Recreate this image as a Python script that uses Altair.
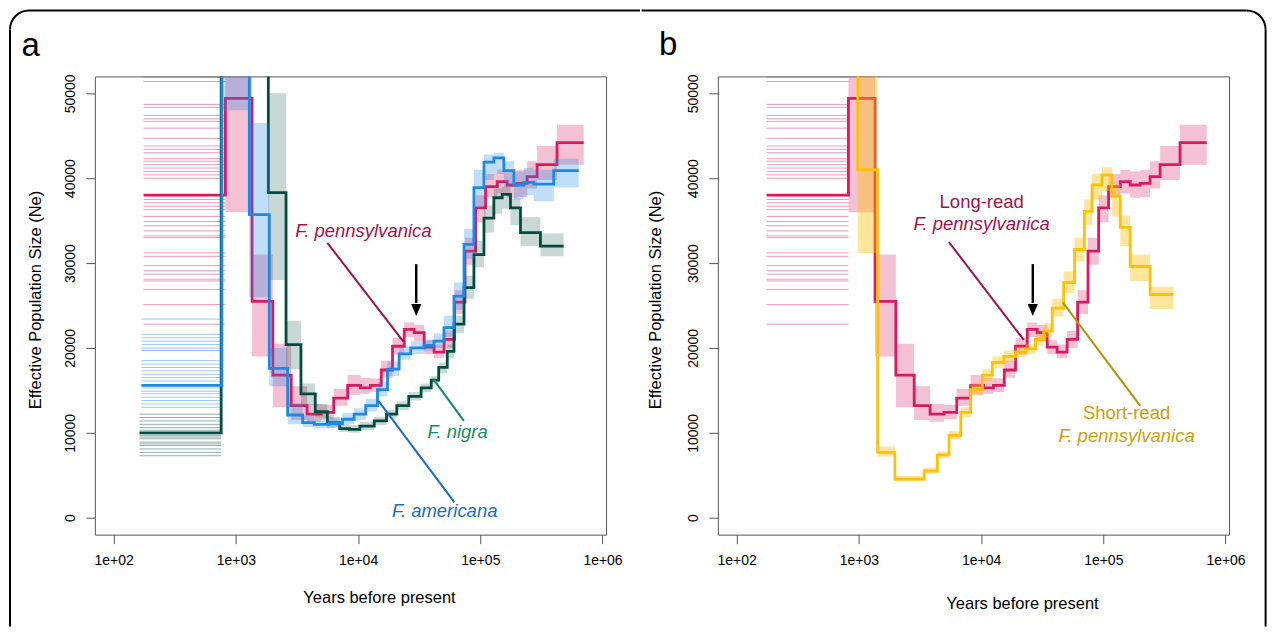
import math
import altair as alt
import pandas as pd

# ---------------- data ----------------
# step start times (years before present); the last entry closes the last step
red_t = [176, 822, 1358, 2009, 2838, 3828, 4977, 6324, 8222, 10470, 12590, 15490,
         19140, 23880, 28770, 34750, 41880, 50580, 61660, 74990, 91620, 110400,
         137700, 166000, 200400, 241500, 291700, 424600, 701500]
red_ne = [38000, 49400, 25500, 16800, 13200, 12200, 12400, 14100, 15600, 15300, 15600, 17400,
          20200, 22200, 21800, 20100, 19500, 21000, 25400, 31400, 36500, 39000,
          39600, 39200, 39400, 40200, 41600, 44200]
red_lo = [38000, 36000, 19000, 13000, 11500, 11300, 11600, 13200, 14500, 14600, 14800, 16500,
          19200, 21300, 20800, 19300, 18800, 20000, 24000, 29800, 34800, 37800,
          38200, 37700, 37800, 38800, 39800, 41600]
red_hi = [38000, 56000, 31000, 20500, 15500, 13400, 13300, 15200, 16800, 16500, 16400, 18500,
          21200, 23000, 22700, 20900, 20400, 22000, 26800, 33000, 38000, 40500,
          41000, 40800, 41000, 42000, 43800, 46300]
red_first_boot = [51900, 51400, 48700, 48350, 47400, 47000, 46700, 45900, 44700, 43800, 43400,
                  43000, 42300, 42000, 41600, 41200, 40800, 40400, 40000, 37500, 37100, 36700,
                  36300, 35500, 34900, 34400, 33800, 33200, 33000, 31200, 30800, 29700, 29100,
                  28700, 28100, 27900, 26900, 25100, 22800]

blue_t = [169, 769, 1291, 1879, 2655, 3524, 4385, 5821, 7464, 9290, 11560, 14420,
          17420, 21680, 26980, 34670, 41880, 50470, 60950, 73620, 88720, 107200,
          129100, 156000, 188400, 227000, 273500, 399000, 638300]
blue_ne = [15600, 70000, 35700, 17600, 12100, 11200, 11000, 11100, 11600, 12200, 13200, 15100,
           17500, 19300, 20000, 20300, 20800, 22400, 26100, 32200, 38900, 41900,
           42400, 40900, 39200, 39500, 39300, 40900]
blue_lo = [15600, 48000, 26000, 15500, 11000, 10700, 10500, 10600, 11000, 11500, 12500, 14300,
           16700, 18600, 19300, 19600, 20000, 21300, 24500, 30500, 36500, 39800,
           40500, 38900, 37500, 38000, 37300, 38900]
blue_hi = [15600, 80000, 46500, 20000, 13500, 12000, 11600, 11700, 12300, 12900, 14000, 16000,
           18400, 20100, 20800, 21000, 21700, 23800, 27700, 34000, 41000, 42800,
           43000, 42000, 40800, 41200, 41000, 42300]
blue_first_boot = [23400, 21600, 21200, 20800, 20400, 20000, 19700, 18500, 18100, 17700, 17300,
                   16900, 16500, 16100, 15300, 14900, 14600, 14200, 13800, 13400, 13000]

green_t = [163, 759, 1845, 2576, 3412, 4467, 5610, 7079, 8511, 10350, 13580, 17100,
           20750, 26000, 32810, 39720, 45710, 53700, 60950, 73620, 88720, 107200,
           129100, 151000, 176600, 213300, 310500, 480800]
green_ne = [10000, 75000, 38300, 20400, 14600, 12500, 11200, 10500, 10400, 10800, 11400, 12200,
            13200, 14300, 15300, 16200, 17700, 19600, 22800, 27100, 31000, 35300,
            37700, 38100, 36500, 33600, 32000]
green_lo = [10000, 55000, 28000, 17500, 13300, 11700, 10600, 10100, 10000, 10300, 10900, 11700,
            12700, 13800, 14800, 15700, 17000, 18800, 21800, 25800, 29500, 33600,
            35800, 36400, 34500, 32000, 30800]
green_hi = [10000, 90000, 50000, 23200, 15800, 13400, 11900, 11000, 10900, 11300, 11900, 12700,
            13700, 14800, 15800, 16700, 18300, 20400, 23800, 28500, 32600, 36800,
            38800, 39000, 37600, 35400, 33500]
green_first_boot = [12200, 11800, 11400, 11000, 10600, 10300, 9700, 9500, 9300, 8900, 8700,
                    8500, 8100, 7700, 7300]

gold_t = [178, 980, 1426, 1972, 3420, 4395, 5470, 6823, 8222, 10250, 12360, 15380,
          19140, 23120, 27860, 32580, 38190, 47420, 58210, 69980, 80910, 97470,
          117800, 137700, 166000, 241500, 374100]
gold_ne = [80000, 41000, 7700, 4550, 5500, 7400, 9700, 12400, 15100, 16800, 18300, 19000,
           19500, 19900, 21000, 22000, 24700, 27700, 31600, 36100, 39200, 40400,
           37900, 34200, 29600, 26300]
gold_lo = [80000, 31200, 7200, 4300, 5200, 7000, 9200, 11800, 14400, 16100, 17600, 18400,
           18900, 19300, 20300, 21200, 23700, 26500, 30200, 34500, 37500, 38500,
           35500, 32000, 27900, 24600]
gold_hi = [80000, 56000, 8400, 4900, 5900, 7800, 10200, 13000, 15800, 17500, 19000, 19700,
           20100, 20500, 21700, 22900, 25800, 29000, 33000, 37500, 40500, 41300,
           39300, 35600, 31000, 27200]

# annotations (data coordinates: years, Ne)
a_labels = ["F. pennsylvanica", "F. nigra", "F. americana"]
a_label_x = [11070, 65300, 51200]
a_label_y = [33760, 10040, 740]
a_ptr_x1 = [5610, 41300, 14690]
a_ptr_y1 = [32390, 16320, 13760]
a_ptr_x2 = [23500, 73450, 61500]
a_ptr_y2 = [20740, 11410, 1800]
a_arrow_x = 29920

b_labels_plain = ["Long-read", "Short-read"]
b_labels_ital = ["F. pennsylvanica", "F. pennsylvanica"]
b_label_x = [10120, 155000]
b_plain_y = [37180, 12390]
b_ital_y = [34620, 9650]
b_ptr_x1 = [5460, 46800]
b_ptr_y1 = [32470, 25330]
b_ptr_x2 = [22390, 200400]
b_ptr_y2 = [20940, 13180]
b_arrow_x = 26500

arrow_top, arrow_base, arrow_head = 29880, 25300, 24470

# ---------------- styling ----------------
RED, BLUE, GREEN, GOLD = "#D81B60", "#1E88E5", "#004D40", "#FFC107"
C_PENN, C_NIGRA, C_AMER = "#A0124E", "#138A6A", "#1C6CC0"
C_SHORT_T, C_SHORT_L = "#C9A10B", "#B69209"
BORDER = "black"
FONT = "Liberation Sans"

W, H = 512, 459
XS = alt.Scale(type="log", domain=[70.3, 1.069e6], nice=False)
YS = alt.Scale(domain=[-2000, 52000], nice=False, zero=False)


def axes(title_x, title_y, ytitle_x):
    xa = alt.Axis(values=[100, 1000, 10000, 100000, 1000000],
                  labelExpr="'1e+0' + round(log(datum.value) / LN10)",
                  title="Years before present", grid=False, domain=False,
                  tickSize=9, tickColor="#555555", tickWidth=1,
                  labelFontSize=14, labelColor="black", labelPadding=10,
                  labelFlush=False, labelOverlap=False,
                  titleFontSize=16.5, titleFontWeight="normal", titleColor="black",
                  titleX=title_x, titleY=title_y, titleAlign="center",
                  titleBaseline="middle")
    ya = alt.Axis(values=[0, 10000, 20000, 30000, 40000, 50000], format="d",
                  title="Effective Population Size (Ne)", grid=False, domain=False,
                  tickSize=9, tickColor="#555555", tickWidth=1,
                  labelFontSize=14, labelColor="black", labelPadding=8,
                  labelAngle=270, labelAlign="center", labelBaseline="bottom",
                  labelFlush=False, labelOverlap=False,
                  titleFontSize=16.5, titleFontWeight="normal", titleColor="black",
                  titleAngle=270, titleX=ytitle_x, titleY=H / 2 - 6,
                  titleAlign="center", titleBaseline="middle")
    return xa, ya


def step_df(t, ne, lo, hi):
    n = len(ne)
    return pd.DataFrame({"t": list(t[:n]) + [t[n]],
                         "ne": list(ne) + [ne[-1]],
                         "lo": list(lo) + [lo[-1]],
                         "hi": list(hi) + [hi[-1]]})


def curve(t, ne, lo, hi, first, color, band_op, xa, ya):
    df = step_df(t, ne, lo, hi)
    layers = []
    if first:
        fl = pd.DataFrame({"v": first, "x0": t[0], "x1": t[1]})
        layers.append(alt.Chart(fl).mark_rule(clip=True, color=color, opacity=0.45,
                                              strokeWidth=1).encode(
            x=alt.X("x0:Q", scale=XS, axis=xa), x2="x1:Q",
            y=alt.Y("v:Q", scale=YS, axis=ya)))
    layers.append(alt.Chart(df).mark_area(interpolate="step-after", clip=True, color=color,
                                          opacity=band_op).encode(
        x=alt.X("t:Q", scale=XS, axis=xa), y=alt.Y("lo:Q", scale=YS, axis=ya), y2="hi:Q"))
    layers.append(alt.Chart(df).mark_line(interpolate="step-after", clip=True, color=color,
                                          strokeWidth=2.8).encode(
        x=alt.X("t:Q", scale=XS, axis=xa), y=alt.Y("ne:Q", scale=YS, axis=ya)))
    return layers


def texts(xs, ys, labels, colors, italic, xa, ya):
    df = pd.DataFrame({"x": xs, "y": ys, "label": labels, "c": colors})
    return alt.Chart(df).mark_text(fontSize=18.5, fontStyle="italic" if italic else "normal",
                                   align="center", baseline="middle").encode(
        x=alt.X("x:Q", scale=XS, axis=xa), y=alt.Y("y:Q", scale=YS, axis=ya),
        text="label:N", color=alt.Color("c:N", scale=None))


def pointers(x1, y1, x2, y2, colors, xa, ya):
    df = pd.DataFrame({"x": x1, "y": y1, "x2": x2, "y2": y2, "c": colors})
    return alt.Chart(df).mark_rule(strokeWidth=2).encode(
        x=alt.X("x:Q", scale=XS, axis=xa), y=alt.Y("y:Q", scale=YS, axis=ya),
        x2="x2:Q", y2="y2:Q", color=alt.Color("c:N", scale=None))


def arrow(xv, xa, ya):
    shaft = alt.Chart(pd.DataFrame({"x": [xv], "y": [arrow_top], "y2": [arrow_base]})).mark_rule(
        strokeWidth=2.4, color="black").encode(
        x=alt.X("x:Q", scale=XS, axis=xa), y=alt.Y("y:Q", scale=YS, axis=ya), y2="y2:Q")
    head = alt.Chart(pd.DataFrame({"x": [xv], "y": [arrow_head]})).mark_point(
        shape="M-0.85,-1L0.85,-1L0,1Z", size=144, filled=True, opacity=1,
        color="black", strokeWidth=0).encode(
        x=alt.X("x:Q", scale=XS, axis=xa), y=alt.Y("y:Q", scale=YS, axis=ya))
    return [shaft, head]


BW, R = 2.0, 20


def one(tag):
    return pd.DataFrame({"panel": [tag]})


def hbar(tag, x1, x2, y1):
    return alt.Chart(one(tag)).mark_rect(color=BORDER).encode(
        x=alt.value(x1), x2=alt.value(x2), y=alt.value(y1), y2=alt.value(y1 + BW))


def vbar(tag, x1, y1, y2):
    return alt.Chart(one(tag)).mark_rect(color=BORDER).encode(
        x=alt.value(x1), x2=alt.value(x1 + BW), y=alt.value(y1), y2=alt.value(y2))


def corner(tag, cx, cy, th1, th2):
    return alt.Chart(one(tag)).mark_arc(x=cx, y=cy, radius=R, radius2=R - BW,
                                        theta=th1, theta2=th2, color=BORDER)


def panel_label(tag, txt, x, y):
    return alt.Chart(one(tag)).mark_text(text=txt, fontSize=33, align="left",
                                         baseline="alphabetic", color="black").encode(
        x=alt.value(x), y=alt.value(y))


TOP = -67
BOTTOM = 551

# ---------------- panel a ----------------
xa_a, ya_a = axes(284.6, 63.3, -59)
LEFT = -86
layers_a = [
    vbar("a", LEFT, TOP + R, BOTTOM),
    corner("a", LEFT + R, TOP + R, 1.5 * math.pi, 2 * math.pi),
    hbar("a", LEFT + R, 546, TOP),
]
layers_a += curve(red_t, red_ne, red_lo, red_hi, red_first_boot, RED, 0.28, xa_a, ya_a)
layers_a += curve(green_t, green_ne, green_lo, green_hi, green_first_boot, GREEN, 0.22, xa_a, ya_a)
layers_a += curve(blue_t, blue_ne, blue_lo, blue_hi, blue_first_boot, BLUE, 0.28, xa_a, ya_a)
layers_a.append(pointers(a_ptr_x1, a_ptr_y1, a_ptr_x2, a_ptr_y2,
                         [C_PENN, C_NIGRA, C_AMER], xa_a, ya_a))
layers_a.append(texts(a_label_x, a_label_y, a_labels, [C_PENN, C_NIGRA, C_AMER], True, xa_a, ya_a))
layers_a += arrow(a_arrow_x, xa_a, ya_a)
layers_a.append(panel_label("a", "a", -73.5, -20.5))
panel_a = alt.layer(*layers_a).properties(width=W, height=H)

# ---------------- panel b ----------------
xa_b, ya_b = axes(304.6, 69.3, -62)
RIGHT = 549.6
layers_b = [
    hbar("b", -76.4, RIGHT - R, TOP),
    vbar("b", RIGHT - BW, TOP + R, BOTTOM),
    corner("b", RIGHT - R, TOP + R, 0, 0.5 * math.pi),
]
layers_b += curve(red_t, red_ne, red_lo, red_hi, red_first_boot, RED, 0.28, xa_b, ya_b)
layers_b += curve(gold_t, gold_ne, gold_lo, gold_hi, None, GOLD, 0.4, xa_b, ya_b)
layers_b.append(pointers(b_ptr_x1, b_ptr_y1, b_ptr_x2, b_ptr_y2,
                         [C_PENN, C_SHORT_L], xa_b, ya_b))
layers_b.append(texts(b_label_x, b_plain_y, b_labels_plain, [C_PENN, C_SHORT_T], False, xa_b, ya_b))
layers_b.append(texts(b_label_x, b_ital_y, b_labels_ital, [C_PENN, C_SHORT_T], True, xa_b, ya_b))
layers_b += arrow(b_arrow_x, xa_b, ya_b)
layers_b.append(panel_label("b", "b", -59, -21))
panel_b = alt.layer(*layers_b).properties(width=W, height=H)

chart = (alt.hconcat(panel_a, panel_b, spacing=0)
         .properties(padding=0)
         .configure(font=FONT)
         .configure_view(stroke="#555555", strokeWidth=1))

chart.save("out.html", embed_options={"renderer": "svg", "actions": False})
